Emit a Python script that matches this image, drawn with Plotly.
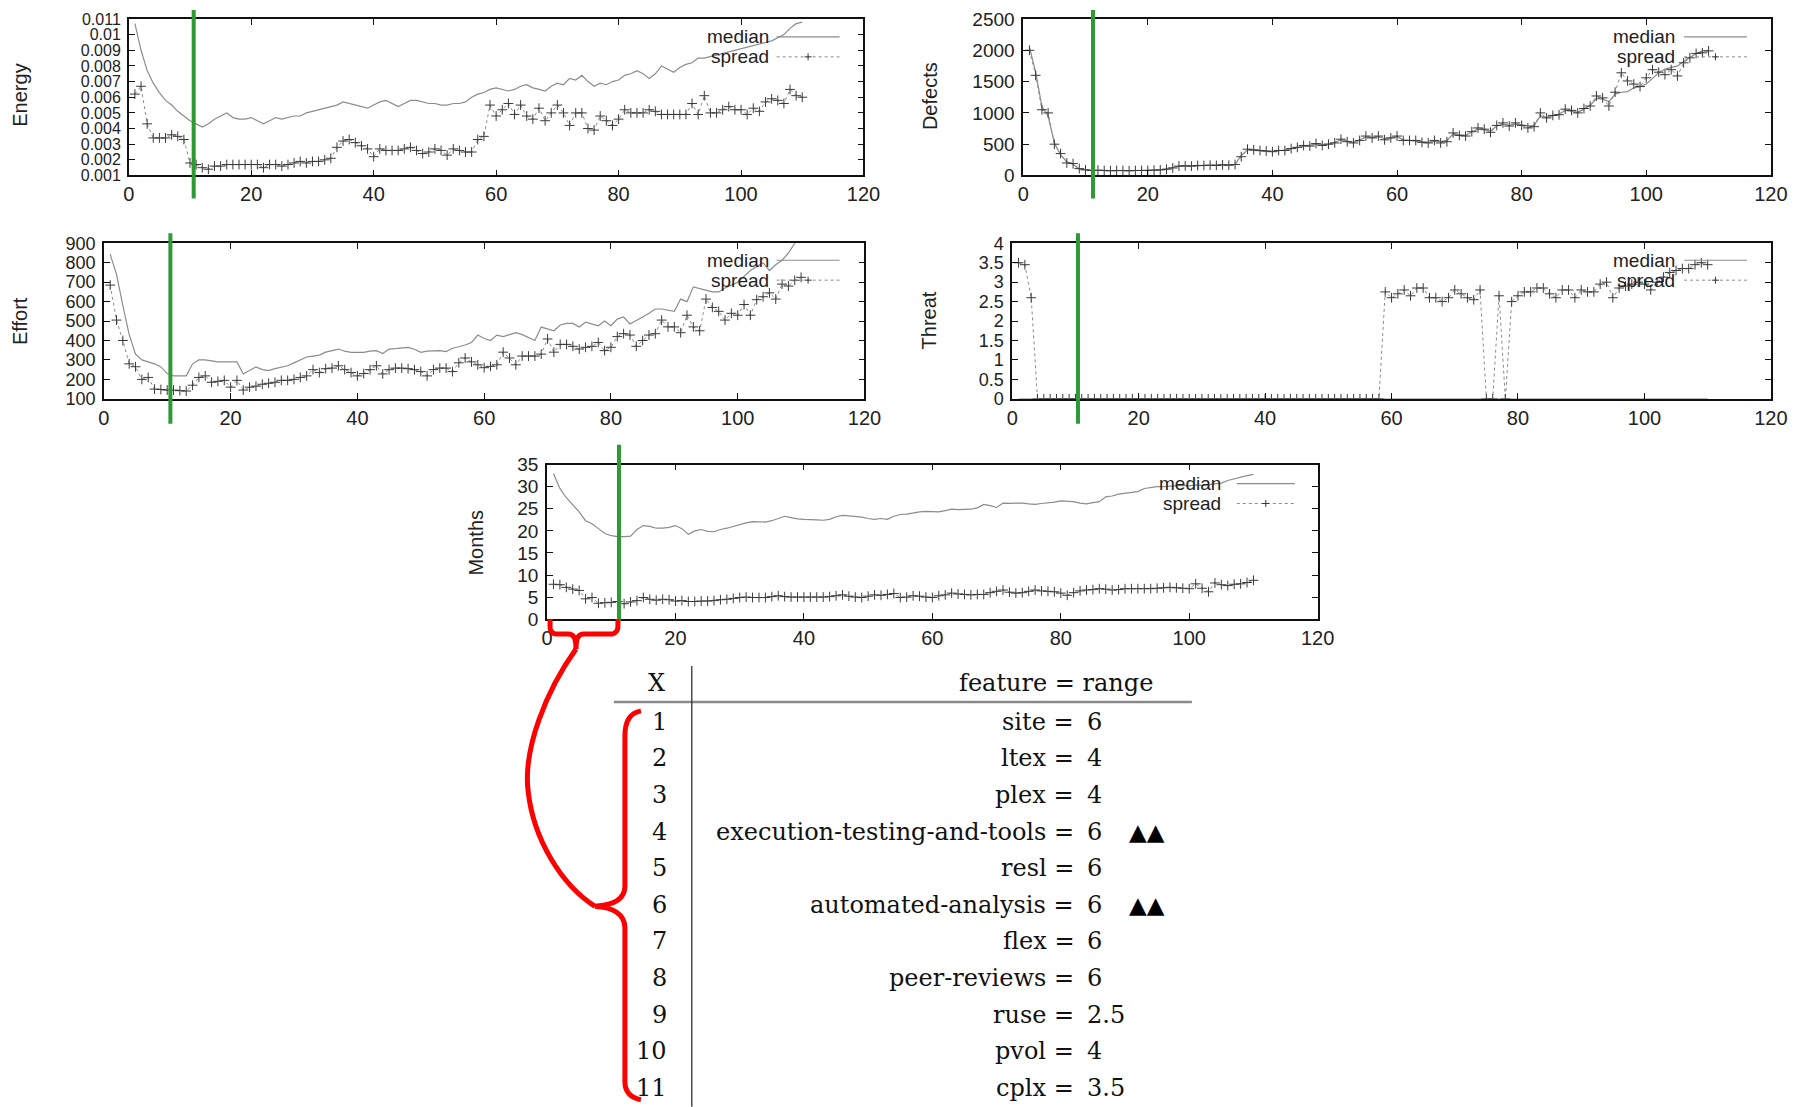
import plotly.graph_objects as go

# ---------------- data ----------------
iterations = list(range(1, 111))

energy_median = [
    0.0107, 0.0090, 0.0077, 0.0069, 0.0063, 0.0058, 0.0055, 0.0051, 0.0048, 0.0045,
    0.0043, 0.0041, 0.0043, 0.0046, 0.0048, 0.0050, 0.0047, 0.0046, 0.0046, 0.0047,
    0.0045, 0.0043, 0.0045, 0.0047, 0.0046, 0.0047, 0.0048, 0.0048, 0.0050, 0.0051,
    0.0052, 0.0053, 0.0054, 0.0055, 0.0057, 0.0056, 0.0055, 0.0054, 0.0053, 0.0055,
    0.0057, 0.0058, 0.0056, 0.0054, 0.0056, 0.0058, 0.0058, 0.0057, 0.0056, 0.0056,
    0.0055, 0.0055, 0.0056, 0.0056, 0.0057, 0.0060, 0.0062, 0.0063, 0.0065, 0.0066,
    0.0065, 0.0064, 0.0065, 0.0067, 0.0068, 0.0066, 0.0065, 0.0064, 0.0067, 0.0069,
    0.0068, 0.0072, 0.0071, 0.0074, 0.0070, 0.0067, 0.0069, 0.0068, 0.0070, 0.0071,
    0.0074, 0.0075, 0.0077, 0.0075, 0.0072, 0.0075, 0.0080, 0.0078, 0.0076, 0.0079,
    0.0081, 0.0082, 0.0085, 0.0085, 0.0086, 0.0087, 0.0088, 0.0089, 0.0090, 0.0091,
    0.0092, 0.0093, 0.0094, 0.0095, 0.0096, 0.0098, 0.0100, 0.0104, 0.0107, 0.0108,
]
energy_spread = [
    0.0062, 0.0067, 0.0043, 0.0034, 0.0034, 0.0034, 0.0036, 0.0035, 0.0033, 0.0018,
    0.0017, 0.0015, 0.0014, 0.0016, 0.0016, 0.0017, 0.0017, 0.0017, 0.0017, 0.0017,
    0.0017, 0.0015, 0.0017, 0.0017, 0.0016, 0.0017, 0.0018, 0.0019, 0.0018, 0.0019,
    0.0019, 0.0020, 0.0021, 0.0028, 0.0032, 0.0033, 0.0031, 0.0029, 0.0027, 0.0022,
    0.0027, 0.0026, 0.0026, 0.0026, 0.0027, 0.0028, 0.0026, 0.0024, 0.0025, 0.0027,
    0.0026, 0.0023, 0.0027, 0.0026, 0.0025, 0.0025, 0.0033, 0.0035, 0.0055, 0.0048,
    0.0052, 0.0056, 0.0049, 0.0055, 0.0048, 0.0046, 0.0053, 0.0045, 0.0050, 0.0055,
    0.0050, 0.0042, 0.0050, 0.0050, 0.0040, 0.0039, 0.0048, 0.0045, 0.0042, 0.0046,
    0.0052, 0.0050, 0.0050, 0.0050, 0.0052, 0.0051, 0.0049, 0.0049, 0.0049, 0.0049,
    0.0049, 0.0056, 0.0049, 0.0061, 0.0050, 0.0050, 0.0052, 0.0054, 0.0052, 0.0052,
    0.0049, 0.0053, 0.0051, 0.0057, 0.0059, 0.0058, 0.0056, 0.0065, 0.0061, 0.0060,
]

defects_median = [
    2050, 1650, 1100, 950, 520, 330, 220, 180, 100, 85,
    80, 80, 78, 75, 78, 80, 78, 80, 82, 82,
    85, 90, 105, 125, 150, 150, 155, 160, 160, 165,
    165, 170, 170, 180, 320, 410, 400, 395, 385, 385,
    395, 405, 430, 445, 470, 480, 500, 495, 505, 530,
    570, 550, 530, 570, 610, 610, 620, 590, 610, 620,
    570, 560, 555, 540, 530, 550, 540, 560, 660, 650,
    640, 700, 740, 730, 710, 790, 820, 800, 820, 810,
    790, 800, 950, 930, 950, 980, 1040, 1030, 1010, 1060,
    1120, 1230, 1220, 1180, 1300, 1330, 1340, 1400, 1420, 1460,
    1550, 1640, 1700, 1720, 1750, 1820, 1880, 1950, 1990, 2000,
]
defects_spread = [
    2000, 1600, 1050, 1000, 500, 350, 200, 190, 110, 90,
    80, 85, 80, 75, 80, 80, 75, 80, 80, 80,
    85, 90, 100, 120, 150, 155, 150, 160, 160, 165,
    160, 170, 165, 175, 300, 420, 410, 400, 390, 380,
    400, 400, 430, 450, 480, 470, 510, 480, 500, 520,
    580, 540, 520, 560, 630, 600, 630, 570, 600, 630,
    560, 560, 560, 530, 520, 560, 520, 540, 680, 640,
    630, 700, 760, 740, 690, 800, 840, 790, 840, 800,
    760, 780, 1000, 920, 960, 970, 1060, 1040, 1000, 1070,
    1110, 1270, 1240, 1110, 1330, 1640, 1510, 1460, 1420, 1560,
    1690, 1650, 1610, 1690, 1590, 1800, 1880, 1950, 1960, 1990,
]

effort_median = [
    844, 740, 580, 430, 330, 300, 290, 280, 264, 230,
    218, 218, 218, 280, 300, 300, 295, 290, 290, 290,
    290, 228, 245, 264, 250, 245, 255, 264, 270, 285,
    300, 315, 320, 325, 340, 350, 356, 345, 339, 339,
    339, 345, 348, 333, 356, 358, 362, 365, 355, 339,
    345, 348, 348, 343, 360, 368, 377, 390, 428, 410,
    400, 428, 420, 430, 440, 430, 415, 400, 469, 460,
    450, 480, 488, 488, 469, 494, 485, 476, 500, 476,
    510, 521, 485, 505, 521, 540, 562, 562, 555, 550,
    613, 600, 676, 668, 660, 650, 650, 670, 685, 700,
    730, 760, 780, 800, 760, 790, 813, 850, 900, 920,
]
effort_spread = [
    685, 505, 400, 280, 265, 200, 210, 150, 148, 145,
    145, 142, 140, 170, 210, 218, 185, 190, 195, 160,
    195, 145, 160, 165, 175, 180, 185, 195, 195, 200,
    210, 218, 250, 235, 255, 258, 270, 250, 235, 218,
    230, 250, 270, 228, 250, 258, 258, 255, 250, 240,
    218, 250, 258, 258, 240, 285, 310, 290, 275, 260,
    267, 275, 340, 310, 275, 320, 320, 320, 330, 408,
    340, 380, 380, 370, 356, 365, 370, 390, 348, 365,
    420, 435, 428, 370, 400, 428, 435, 505, 470, 470,
    440, 530, 470, 450, 613, 570, 550, 505, 540, 530,
    585, 530, 610, 625, 645, 613, 690, 680, 710, 725,
]

threat_median = [
    0, 0, 0, 0, 0, 0, 0, 0, 0, 0,
    0, 0, 0, 0, 0, 0, 0, 0, 0, 0,
    0, 0, 0, 0, 0, 0, 0, 0, 0, 0,
    0, 0, 0, 0, 0, 0, 0, 0, 0, 0,
    0, 0, 0, 0, 0, 0, 0, 0, 0, 0,
    0, 0, 0, 0, 0, 0, 0, 0, 0, 0,
    0, 0, 0, 0, 0, 0, 0, 0, 0, 0,
    0, 0, 0, 0, 0, 0, 0, 0, 0, 0,
    0, 0, 0, 0, 0, 0, 0, 0, 0, 0,
    0, 0, 0, 0, 0, 0, 0, 0, 0, 0,
    0, 0, 0, 0, 0, 0, 0, 0, 0, 0,
]
threat_spread = [
    3.5, 3.45, 2.6, 0, 0, 0, 0, 0, 0, 0,
    0, 0, 0, 0, 0, 0, 0, 0, 0, 0,
    0, 0, 0, 0, 0, 0, 0, 0, 0, 0,
    0, 0, 0, 0, 0, 0, 0, 0, 0, 0,
    0, 0, 0, 0, 0, 0, 0, 0, 0, 0,
    0, 0, 0, 0, 0, 0, 0, 0, 2.75, 2.6,
    2.7, 2.8, 2.65, 2.85, 2.85, 2.6, 2.6, 2.5, 2.6, 2.8,
    2.7, 2.6, 2.55, 2.8, 0, 0, 2.65, 0, 2.5, 2.65,
    2.75, 2.75, 2.85, 2.85, 2.7, 2.6, 2.8, 2.8, 2.6, 2.8,
    2.75, 2.75, 2.95, 3.0, 2.6, 2.85, 2.9, 2.95, 3.0, 2.95,
    2.8, 3.0, 3.13, 3.25, 3.3, 3.35, 3.35, 3.45, 3.5, 3.45,
]

months_median = [
    33, 29.6, 27.5, 25.8, 24.3, 22.3, 21.6, 20.5, 19.4, 18.9,
    18.7, 18.7, 18.8, 20.3, 21.2, 21.0, 20.6, 20.6, 20.8, 21.2,
    20.5, 19.2, 20.0, 20.3, 19.9, 19.8, 20.3, 20.6, 21.0, 21.5,
    21.8, 22.1, 22.1, 22.0, 22.3, 22.8, 23.3, 23.0, 22.7, 22.6,
    22.6, 22.5, 22.4, 22.6, 23.2, 23.5, 23.4, 23.3, 23.1, 22.8,
    22.6, 22.8, 22.6, 23.3, 23.7, 23.8, 24.1, 24.3, 24.4, 24.4,
    24.3, 24.6, 24.9, 24.8, 24.9, 24.9, 25.2, 26.0, 25.7, 25.3,
    26.3, 26.2, 26.3, 26.3, 26.1, 26.0, 26.2, 26.3, 26.5, 26.8,
    26.7, 26.6, 26.3, 26.1, 26.4, 26.6, 27.7, 27.9, 28.3, 28.5,
    28.8, 28.9, 29.6, 29.8, 30.0, 30.0, 30.1, 30.2, 30.3, 30.2,
    30.4, 30.3, 30.5, 30.6, 30.8, 31.4, 31.8, 32.2, 32.5, 32.8,
]
months_spread = [
    7.9, 7.8, 7.2, 6.8, 6.5, 4.6, 4.9, 3.6, 3.7, 3.8,
    4.0, 3.5, 3.9, 4.2, 4.9, 4.5, 4.3, 4.5, 4.4, 4.1,
    4.2, 4.0, 4.0, 4.1, 4.1, 4.2, 4.4, 4.5, 4.7, 4.9,
    5.0, 4.9, 4.9, 4.9, 5.1, 5.3, 5.1, 5.0, 5.0, 5.0,
    5.0, 5.0, 5.0, 5.1, 5.3, 5.5, 5.2, 5.0, 4.9, 5.2,
    5.5, 5.4, 5.6, 5.8, 4.9, 5.0, 5.3, 5.2, 5.0, 4.9,
    5.3, 5.5, 5.9, 5.7, 5.6, 5.5, 5.6, 5.6, 6.0, 6.3,
    6.6, 6.1, 5.9, 6.0, 6.3, 6.6, 6.4, 6.3, 6.2, 5.9,
    5.4, 6.0, 6.4, 6.6, 6.7, 6.9, 6.8, 6.6, 6.7, 6.9,
    6.9, 6.9, 6.9, 6.9, 7.0, 7.1, 7.2, 7.1, 7.0, 6.9,
    8.0, 7.0, 6.2, 8.2, 7.8, 7.6, 7.9, 8.0, 8.3, 8.8,
]

x_ticks = ["0", "20", "40", "60", "80", "100", "120"]
energy_ticks = ["0.001", "0.002", "0.003", "0.004", "0.005", "0.006", "0.007",
                "0.008", "0.009", "0.01", "0.011"]
defects_ticks = ["0", "500", "1000", "1500", "2000", "2500"]
effort_ticks = ["100", "200", "300", "400", "500", "600", "700", "800", "900"]
threat_ticks = ["0", "0.5", "1", "1.5", "2", "2.5", "3", "3.5", "4"]
months_ticks = ["0", "5", "10", "15", "20", "25", "30", "35"]

# green "knee" markers (x position on each panel)
knee_x = [10.6, 11.2, 10.5, 10.4, 11.2]

table_x = ["1", "2", "3", "4", "5", "6", "7", "8", "9", "10", "11"]
feature_names = ["site", "ltex", "plex", "execution-testing-and-tools", "resl",
                 "automated-analysis", "flex", "peer-reviews", "ruse", "pvol", "cplx"]
feature_ranges = ["6", "4", "4", "6", "6", "6", "6", "6", "2.5", "4", "3.5"]
feature_marks = ["", "", "", "\u25B2\u25B2", "", "\u25B2\u25B2", "", "", "", "", ""]

# ---------------- layout helpers ----------------
W, H = 1805, 1107
# small calibration between the target picture and the rendered page
SX, AX = 0.989, 4.0
SY, AY = 0.984, 7.0


def X(px):
    return ((px - AX) / SX) / W


def Y(py):
    return 1 - ((py - AY) / SY) / H


def pxpath(s):
    toks = s.replace(",", " ").split()
    out, nums = [], []
    for t in toks:
        if t.isalpha():
            out.append(t)
        else:
            nums.append(float(t))
            if len(nums) == 2:
                out.append(f"{X(nums[0]):.5f},{Y(nums[1]):.5f}")
                nums = []
    return " ".join(out)


SANS = "Liberation Sans, Arial, sans-serif"
SERIF = "DejaVu Serif, Liberation Serif, serif"
XTICKFONT = dict(family=SANS, size=20, color="#222")

panels = [
    dict(title="Energy", med=energy_median, spr=energy_spread, ticks=energy_ticks, ytf=16,
         box=(127, 863, 16, 173), yr=[0.001, 0.011], title_xy=(18, 92),
         leg=(770, 34, 776, 839), green_y=(7, 196)),
    dict(title="Defects", med=defects_median, spr=defects_spread, ticks=defects_ticks, ytf=19,
         box=(1023, 1772, 16, 173), yr=[0, 2500], title_xy=(929, 93),
         leg=(1678, 34, 1685, 1748), green_y=(7, 196)),
    dict(title="Effort", med=effort_median, spr=effort_spread, ticks=effort_ticks, ytf=18,
         box=(102, 864, 241, 397), yr=[100, 900], title_xy=(18, 319),
         leg=(770, 258, 776, 839), green_y=(231, 422)),
    dict(title="Threat", med=threat_median, spr=threat_spread, ticks=threat_ticks, ytf=18,
         box=(1012, 1772, 241, 397), yr=[0, 4], title_xy=(929, 318),
         leg=(1678, 258, 1685, 1748), green_y=(231, 422)),
    dict(title="Months", med=months_median, spr=months_spread, ticks=months_ticks, ytf=19,
         box=(546, 1318, 463, 618), yr=[0, 35], title_xy=(475, 541),
         leg=(1223, 482, 1237, 1295), green_y=(443, 620)),
]

fig = go.Figure()
layout = {}
shapes = []
annotations = []

for i, p in enumerate(panels):
    sfx = "" if i == 0 else str(i + 1)
    xa, ya = "x" + sfx, "y" + sfx
    fig.add_trace(go.Scatter(
        x=iterations, y=p["med"], mode="lines", xaxis=xa, yaxis=ya,
        line=dict(color="#8c8c8c", width=1.2), hoverinfo="skip"))
    fig.add_trace(go.Scatter(
        x=iterations, y=p["spr"], mode="lines+markers", xaxis=xa, yaxis=ya,
        line=dict(color="#8c8c8c", width=1, dash="3px,3px"),
        marker=dict(symbol="cross-thin", size=7, line=dict(color="#3a3a3a", width=1)),
        hoverinfo="skip"))
    l, r, t, b = p["box"]
    layout["xaxis" + sfx] = dict(
        domain=[X(l), X(r)], anchor=ya, range=[0, 120],
        tickvals=[float(v) for v in x_ticks], ticktext=x_ticks,
        showline=True, linecolor="#111", linewidth=1.6, mirror="ticks",
        ticks="inside", ticklen=6, tickcolor="#111", tickwidth=1,
        showgrid=False, zeroline=False, tickfont=XTICKFONT)
    layout["yaxis" + sfx] = dict(
        domain=[Y(b), Y(t)], anchor=xa, range=p["yr"],
        tickvals=[float(v) for v in p["ticks"]], ticktext=p["ticks"],
        showline=True, linecolor="#111", linewidth=1.6, mirror="ticks",
        ticks="inside", ticklen=6, tickcolor="#111", tickwidth=1,
        showgrid=False, zeroline=False,
        tickfont=dict(family=SANS, size=p["ytf"], color="#222"), ticklabelstandoff=3)
    # axis title
    tx, ty = p["title_xy"]
    annotations.append(dict(text=p["title"], x=X(tx), y=Y(ty), xref="paper", yref="paper",
                            textangle=-90, showarrow=False, xanchor="center",
                            yanchor="middle",
                            font=dict(family=SANS, size=20, color="#222")))
    # gnuplot-style key
    lx, ly, s0, s1 = p["leg"]
    annotations.append(dict(text="median", x=X(lx), y=Y(ly), xref="paper", yref="paper",
                            xanchor="right", yanchor="middle", showarrow=False,
                            font=dict(family=SANS, size=19, color="#222")))
    annotations.append(dict(text="spread", x=X(lx), y=Y(ly + 20), xref="paper", yref="paper",
                            xanchor="right", yanchor="middle", showarrow=False,
                            font=dict(family=SANS, size=19, color="#222")))
    shapes.append(dict(type="line", xref="paper", yref="paper",
                       x0=X(s0), x1=X(s1), y0=Y(ly), y1=Y(ly),
                       line=dict(color="#8c8c8c", width=1.2)))
    shapes.append(dict(type="line", xref="paper", yref="paper",
                       x0=X(s0), x1=X(s1), y0=Y(ly + 20), y1=Y(ly + 20),
                       line=dict(color="#8c8c8c", width=1, dash="3px,3px")))
    cx = (s0 + s1) / 2
    shapes.append(dict(type="line", xref="paper", yref="paper",
                       x0=X(cx - 3.5), x1=X(cx + 3.5), y0=Y(ly + 20), y1=Y(ly + 20),
                       line=dict(color="#3a3a3a", width=1)))
    shapes.append(dict(type="line", xref="paper", yref="paper",
                       x0=X(cx), x1=X(cx), y0=Y(ly + 16.5), y1=Y(ly + 23.5),
                       line=dict(color="#3a3a3a", width=1)))
    # green vertical marker
    gy0, gy1 = p["green_y"]
    shapes.append(dict(type="line", xref=xa, yref="paper",
                       x0=knee_x[i], x1=knee_x[i], y0=Y(gy0), y1=Y(gy1),
                       line=dict(color="#2f9a33", width=4)))

# ---------------- red braces ----------------
RED = dict(color="#ff0000", width=5)
shapes.append(dict(type="path", xref="paper", yref="paper", line=RED,
                   path=pxpath("M 549,618 L 549,626 C 549,631 552,633 557,633 L 567,633 "
                               "C 573,633 575,637 575,648 C 575,637 577,633 583,633 "
                               "L 609,633 C 614,633 617,630 617,625 L 617,618")))
shapes.append(dict(type="path", xref="paper", yref="paper", line=RED,
                   path=pxpath("M 575,648 C 545,690 522,748 527,790 "
                               "C 532,838 560,884 594,906")))
shapes.append(dict(type="path", xref="paper", yref="paper", line=RED,
                   path=pxpath("M 640,710 C 629,712 624,720 624,735 L 624,886 "
                               "C 624,899 612,905 594,906 C 612,907 624,914 624,928 "
                               "L 624,1082 C 624,1092 630,1098 640,1100")))

# ---------------- table ----------------
shapes.append(dict(type="line", xref="paper", yref="paper",
                   x0=X(613), x1=X(1192), y0=Y(701), y1=Y(701),
                   line=dict(color="#8a8a8a", width=2.5)))
shapes.append(dict(type="line", xref="paper", yref="paper",
                   x0=X(691), x1=X(691), y0=Y(665), y1=Y(1107),
                   line=dict(color="#333", width=1.3)))
TF = dict(family=SERIF, size=24, color="#111")
annotations.append(dict(text="X", x=X(656), y=Y(682), xref="paper", yref="paper",
                        xanchor="center", yanchor="middle", showarrow=False, font=TF))
annotations.append(dict(text="feature = range", x=X(1155), y=Y(682), xref="paper",
                        yref="paper", xanchor="right", yanchor="middle",
                        showarrow=False, font=TF))
for k in range(len(table_x)):
    yy = 721 + k * 36.7
    annotations.append(dict(text=table_x[k], x=X(668), y=Y(yy), xref="paper", yref="paper",
                            xanchor="right", yanchor="middle", showarrow=False, font=TF))
    annotations.append(dict(text=feature_names[k] + " =", x=X(1076), y=Y(yy), xref="paper",
                            yref="paper", xanchor="right", yanchor="middle",
                            showarrow=False, font=TF))
    annotations.append(dict(text=feature_ranges[k], x=X(1085), y=Y(yy), xref="paper",
                            yref="paper", xanchor="left", yanchor="middle",
                            showarrow=False, font=TF))
    if feature_marks[k]:
        annotations.append(dict(text=feature_marks[k], x=X(1127), y=Y(yy), xref="paper",
                                yref="paper", xanchor="left", yanchor="middle",
                                showarrow=False,
                                font=dict(family="DejaVu Sans", size=23, color="#000")))

fig.update_layout(
    width=W, height=H, margin=dict(l=0, r=0, t=0, b=0),
    paper_bgcolor="white", plot_bgcolor="white", showlegend=False,
    shapes=shapes, annotations=annotations, **layout)

fig.write_html("out.html")
